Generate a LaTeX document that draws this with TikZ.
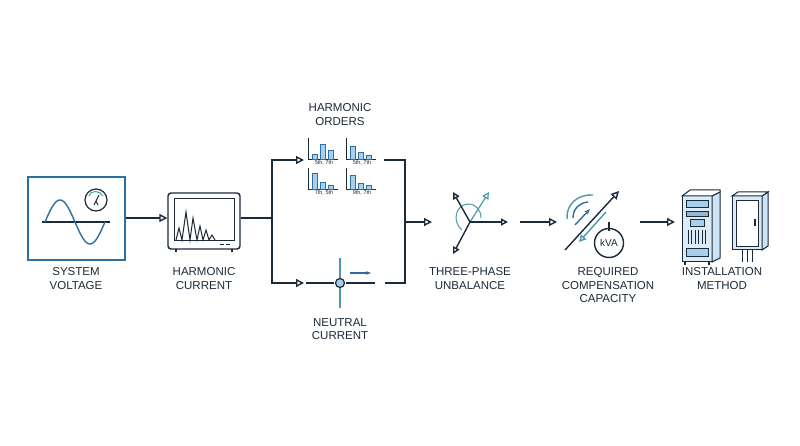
\documentclass[tikz,border=0pt]{standalone}
\usepackage{fontspec}
\setmainfont{Liberation Sans}
\usetikzlibrary{arrows.meta}
\definecolor{navy}{HTML}{1B2A3A}
\definecolor{mblue}{HTML}{2C6FA0}
\definecolor{teal}{HTML}{4A9AA8}
\definecolor{lblue}{HTML}{A8D0EC}
\begin{document}
\begin{tikzpicture}[x=1pt,y=-1pt,
  line/.style={navy,line width=1.4pt},
  arr/.style={line,-{Triangle[open,length=8pt,width=8pt]}},
  lab/.style={align=center,font=\fontsize{11.5}{13.5}\selectfont,text=navy,anchor=north},
  bar/.style={draw=mblue,fill=lblue,line width=0.6pt},
  tiny/.style={font=\fontsize{5.5}{6}\selectfont,text=navy}]
\useasboundingbox[fill=white] (0,0) rectangle (800,446);
% System voltage
\node[draw=mblue,line width=1.4pt,minimum width=97pt,minimum height=83pt,inner sep=0] (sv) at (76.5,218.5) {};
\draw[navy,line width=1.2pt] (42,222)--(110,222);
\draw[mblue,line width=1.4pt,domain=0:360,samples=60] plot ({45+\x/360*60},{222-22*sin(\x)});
\node[draw=navy,circle,line width=1.2pt,minimum size=22pt,inner sep=0] (dial) at (96,200) {};
\draw[teal,line width=1pt] (89,196) .. controls (90,190) and (100,190) .. (103,196);
\draw[navy,line width=1pt] (94,205)--(96,201)--(98,205) (96,201)--(99,195);
\node[lab] (t1) at (76,264) {SYSTEM\\VOLTAGE};
% Harmonic current
\node[draw=navy,fill=white,rounded corners=3pt,line width=1.4pt,minimum width=72pt,minimum height=56pt,inner sep=0] (mon) at (204,221) {};
\draw[navy,line width=1pt] (174,199) rectangle (234,241);
\draw[navy,line width=1pt] (176,240)--(179,228)--(182,240)--(186,212)--(190,240)--(193,218)--(197,240)--(200,226)--(203,240)--(206,230)--(209,240)--(212,235)--(215,240);
\draw[navy,line width=0.8pt] (220,244)--(224,244) (226,244)--(230,244);
\draw[navy,line width=1.2pt] (176,249)--(176,252) (232,249)--(232,252);
\node[lab] (t2) at (204,264) {HARMONIC\\CURRENT};
\draw[arr] (sv.east|-0,218) -- (mon.west|-0,218);
% split
\coordinate (sp) at (272,218);
\coordinate (ho) at (304,160);
\coordinate (nc) at (304,283);
\draw[line] (mon.east|-0,218) -- (sp);
\draw[arr] (sp) |- (ho);
\draw[arr] (sp) |- (nc);
% Harmonic orders
\node[lab] (t3) at (340,100) {HARMONIC\\ORDERS};
\foreach \ox/\oy/\a/\b/\c/\t in {308/138/5/15/9/{5th, 7th},346/138/13/7/4/{5th, 7th},308/168/16/7/4/{7th, 5th},346/168/14/6/4/{9th, 7th}}{
  \draw[navy,line width=0.7pt] (\ox,\oy)--(\ox,\oy+21)--(\ox+30,\oy+21);
  \draw[bar] (\ox+4,\oy+21) rectangle ++(5,-\a);
  \draw[bar] (\ox+12,\oy+21) rectangle ++(5,-\b);
  \draw[bar] (\ox+20,\oy+21) rectangle ++(5,-\c);
  \node[tiny] at (\ox+16,\oy+25) {\t};
}
% neutral
\draw[teal,line width=1.2pt] (340,258)--(340,308);
\draw[navy,line width=1.2pt] (306,283)--(334,283) (346,283)--(375,283);
\node[circle,draw=navy,fill=lblue,line width=1.2pt,minimum size=9pt,inner sep=0] (nd) at (340,283) {};
\draw[mblue,line width=1.2pt,-{Stealth[length=5pt]}] (350,273)--(371,273);
\node[lab] (t4) at (340,315) {NEUTRAL\\CURRENT};
% merge
\coordinate (mr) at (405,222);
\coordinate (tp) at (432,222);
\draw[line] (384,160)-|(mr);
\draw[line] (385,283)-|(mr);
\draw[arr] (mr)--(tp);
% three phase
\draw[teal,line width=1pt] (462,230) .. controls (452,222) and (455,205) .. (468,204) .. controls (476,204) and (481,210) .. (481,218);
\draw[teal,line width=1.2pt,-{Triangle[open,length=7pt,width=7pt]}] (470,222)--(489,192);
\draw[navy,line width=1.4pt,-{Triangle[open,length=7pt,width=7pt]}] (470,222)--(508,222);
\draw[navy,line width=1.4pt,-{Triangle[open,length=7pt,width=7pt]}] (470,222)--(453,192);
\draw[navy,line width=1.4pt,-{Triangle[open,length=7pt,width=7pt]}] (470,222)--(453,254);
\node[lab] (t5) at (470,264) {THREE-PHASE\\UNBALANCE};
\draw[arr] (520,222)--(557,222);
% compensation
\draw[navy,line width=1.4pt,-{Triangle[open,length=8pt,width=8pt]}] (565,250)--(619,191);
\draw[teal,line width=1.4pt,-{Triangle[open,length=7pt,width=7pt]}] (606,212)--(579,242);
\draw[mblue,line width=1.4pt,-{Stealth[length=6pt]}] (575,225)--(590,209);
\draw[teal,line width=1.4pt] (567,219) .. controls (566,204) and (578,194) .. (593,195);
\draw[mblue,line width=1.4pt] (573,218) .. controls (573,209) and (579,203) .. (588,202);
\node[circle,draw=navy,line width=1.4pt,minimum size=29pt,inner sep=0,font=\fontsize{10}{10}\selectfont,text=navy] (kva) at (609,243) {kVA};
\draw[navy,line width=1.4pt] (609,222)--(609,231);
\node[lab] (t6) at (608,264) {REQUIRED\\COMPENSATION\\CAPACITY};
\draw[arr] (640,222)--(675,222);
% rack
\draw[navy,line width=1pt,fill=lblue!40] (682,196) rectangle (712,262);
\draw[navy,line width=1pt,fill=lblue!60] (712,196)--(720,192)--(720,258)--(712,262)--cycle;
\draw[navy,line width=1pt,fill=white] (682,196)--(690,190)--(720,190)--(720,192)--(712,196)--cycle;
\draw[navy,line width=0.7pt,fill=lblue] (686,200) rectangle (708,207);
\draw[navy,line width=0.7pt,fill=mblue!50] (686,211) rectangle (708,216);
\draw[navy,line width=0.7pt,fill=lblue] (690,219) rectangle (704,226);
\foreach \i in {0,...,5}{\draw[navy,line width=0.6pt] (688+\i*3.5,230)--(688+\i*3.5,244);}
\draw[navy,line width=0.7pt,fill=lblue] (686,248) rectangle (708,256);
\draw[navy,line width=1.2pt] (685,262)--(685,265) (709,262)--(709,265);
% cabinet
\draw[navy,line width=1pt,fill=lblue!40] (732,196) rectangle (762,250);
\draw[navy,line width=1pt,fill=lblue!60] (762,196)--(768,192)--(768,246)--(762,250)--cycle;
\draw[navy,line width=1pt,fill=white] (732,196)--(738,192)--(768,192)--(762,196)--cycle;
\draw[navy,line width=0.8pt,fill=white] (736,200) rectangle (758,246);
\draw[navy,line width=1.2pt] (755,219)--(755,226);
\draw[navy,line width=0.8pt] (742,250)--(742,262) (747,250)--(747,262) (752,250)--(752,262);
\node[lab] (t7) at (722,264) {INSTALLATION\\METHOD};
\end{tikzpicture}
\end{document}
